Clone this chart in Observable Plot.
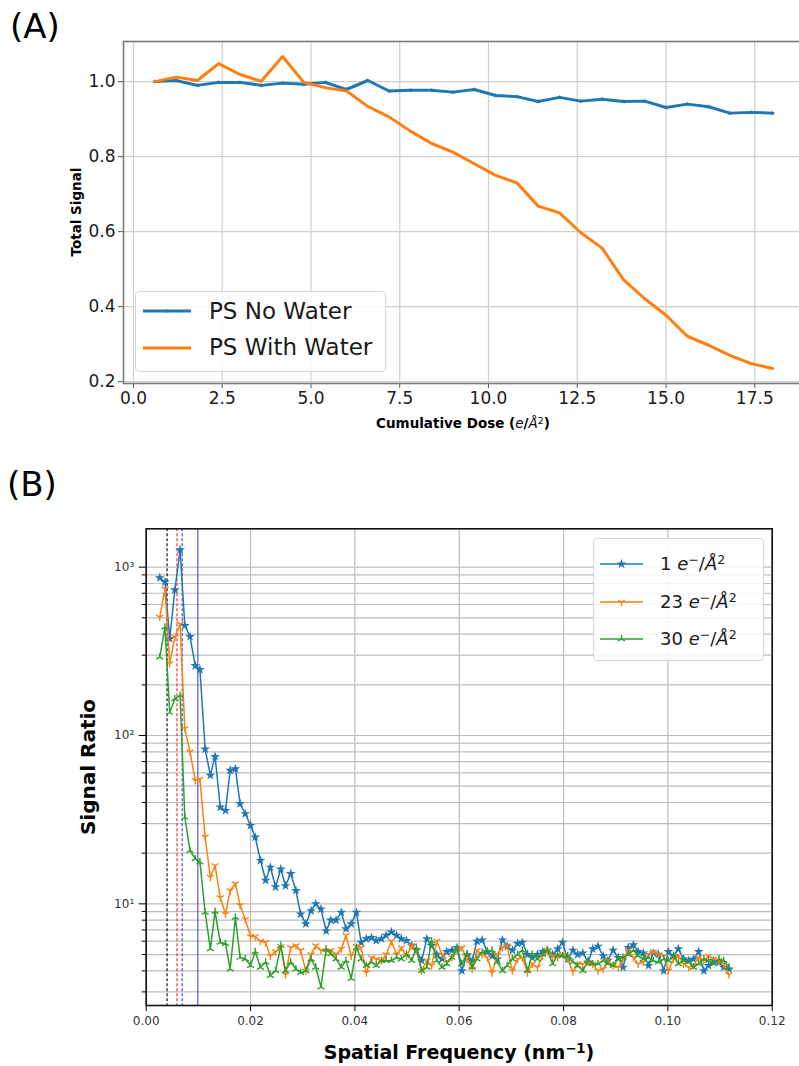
<!DOCTYPE html>
<html><head><meta charset="utf-8">
<script src="https://cdn.jsdelivr.net/npm/d3@7"></script>
<script src="https://cdn.jsdelivr.net/npm/@observablehq/plot@0.6"></script>
<style>
body{margin:0;background:#fff;font-family:"DejaVu Sans",sans-serif;}
#root{position:relative;width:799px;height:1066px;overflow:hidden;background:#fff;}
.abs{position:absolute;white-space:nowrap;line-height:1;color:#000;}
.rot{transform:translate(-50%,-50%) rotate(-90deg);}
.ctr{transform:translate(-50%,-50%);}
sup{font-size:0.7em;vertical-align:0.45em;line-height:0;}
.legend{position:absolute;border:1px solid #d6d6d6;border-radius:4px;background:rgba(255,255,255,0.85);}
</style></head><body><div id="root"></div>
<script>
// ---------- Panel A data ----------
const doseA = [0.6,1.2,1.8,2.4,3.0,3.6,4.2,4.8,5.4,6.0,6.6,7.2,7.8,8.4,9.0,9.6,10.2,10.8,11.4,12.0,12.6,13.2,13.8,14.4,15.0,15.6,16.2,16.8,17.4,18.0];
const noWater = [1.000,1.003,0.990,0.998,0.998,0.990,0.996,0.993,0.998,0.979,1.003,0.975,0.977,0.977,0.972,0.979,0.963,0.960,0.947,0.958,0.948,0.953,0.947,0.948,0.931,0.940,0.933,0.916,0.918,0.916];
const withWater = [1.000,1.012,1.003,1.048,1.019,1.001,1.067,0.998,0.984,0.975,0.934,0.906,0.868,0.835,0.812,0.781,0.750,0.730,0.668,0.650,0.597,0.556,0.472,0.421,0.377,0.321,0.297,0.270,0.248,0.235];
const xTicksA = [0,2.5,5,7.5,10,12.5,15,17.5];
const yTicksA = [0.2,0.4,0.6,0.8,1.0];
const seriesA = ["PS No Water","PS With Water"];

// ---------- Panel B data ----------
const freq = [0.0026,0.0036,0.0045,0.0055,0.0065,0.0074,0.0084,0.0094,0.0103,0.0113,
0.0123,0.0132,0.0142,0.0152,0.0161,0.0171,0.0180,0.0190,0.0200,0.0209,
0.0219,0.0229,0.0238,0.0248,0.0258,0.0267,0.0277,0.0287,0.0296,0.0306,
0.0316,0.0325,0.0335,0.0345,0.0354,0.0364,0.0374,0.0383,0.0393,0.0403,
0.0412,0.0422,0.0432,0.0441,0.0451,0.0460,0.0470,0.0480,0.0489,0.0499,
0.0509,0.0518,0.0528,0.0538,0.0547,0.0557,0.0567,0.0576,0.0586,0.0596,
0.0605,0.0615,0.0625,0.0634,0.0644,0.0654,0.0663,0.0673,0.0683,0.0692,
0.0702,0.0712,0.0721,0.0731,0.0740,0.0750,0.0760,0.0769,0.0779,0.0789,
0.0798,0.0808,0.0818,0.0827,0.0837,0.0847,0.0856,0.0866,0.0876,0.0885,
0.0895,0.0905,0.0914,0.0924,0.0934,0.0943,0.0953,0.0963,0.0972,0.0982,
0.0992,0.1001,0.1011,0.1020,0.1030,0.1040,0.1049,0.1059,0.1069,0.1078,
0.1088,0.1098,0.1107,0.1117];
const ratio1 = [865,815,376,734,1268,450,387,260,246,83,
58,75,37.5,35.8,62,63.4,39.3,34.3,29.2,24.9,
18.1,13.8,16.5,12.6,16.1,12.8,15.1,12.0,8.7,7.6,
9.1,10.0,9.3,6.9,8.0,8.0,8.9,7.1,7.6,8.9,
5.9,6.2,6.3,6.05,6.2,6.5,6.8,6.5,6.2,6.05,
5.65,5.3,4.6,6.2,5.65,5.0,4.7,5.2,5.3,5.5,
4.0,5.0,4.6,6.0,6.1,5.2,4.9,4.7,6.1,5.6,
5.3,5.8,5.9,5.0,4.8,5.0,5.2,5.3,5.0,5.4,
5.9,4.7,5.3,5.0,5.1,4.5,5.4,5.6,4.9,4.6,
5.3,4.8,4.2,5.5,5.7,5.2,5.1,4.3,5.1,5.0,
4.0,5.2,4.9,5.4,4.7,4.6,4.7,5.2,4.0,4.3,
4.6,4.5,4.2,4.1];
const ratio23 = [505,744,267,384,461,110,80,54,55,25,
14.4,16.9,10.9,8.7,12.0,13.2,9.8,8.1,6.4,6.4,
6.0,5.9,4.9,5.2,5.6,3.8,5.5,5.65,5.3,4.0,
5.0,5.65,5.3,5.2,5.3,5.0,5.4,6.5,4.9,5.6,
5.5,3.9,4.8,4.7,4.6,5.0,6.0,5.0,5.5,4.9,
5.65,5.3,4.0,4.6,4.3,6.0,5.0,4.5,4.8,5.3,
5.5,4.7,4.1,5.3,5.0,4.8,3.9,5.0,5.5,5.65,
4.0,4.7,4.8,3.9,4.4,4.2,4.9,5.3,4.9,4.8,
5.0,4.7,3.95,4.4,4.4,4.5,4.4,4.0,4.1,4.6,
4.3,4.2,4.7,5.3,4.8,4.4,4.5,5.0,5.2,5.0,
4.9,4.0,4.7,4.9,4.4,4.2,4.3,4.8,4.6,4.9,
4.7,4.6,4.4,3.8];
const ratio30 = [292,440,137,165,173,32.7,20.7,18.5,17.7,8.9,
5.4,9.0,5.9,5.8,4.1,8.3,4.8,4.7,4.3,5.2,
4.2,4.5,3.75,4.0,5.65,4.0,4.5,4.1,3.9,4.0,
4.7,4.2,3.2,5.4,5.04,4.7,4.2,4.6,3.6,5.5,
4.7,4.3,4.5,4.3,4.6,4.6,4.6,4.8,4.7,5.0,
4.6,5.5,4.0,4.2,6.0,4.6,4.2,4.4,4.8,5.4,
4.4,5.04,4.2,4.7,5.16,5.2,5.3,4.5,4.0,4.3,
4.7,5.0,5.3,4.0,5.0,4.7,5.0,5.3,4.4,5.0,
4.9,4.9,4.5,4.3,4.0,4.6,4.4,4.4,4.6,4.4,
4.3,4.7,4.8,5.0,5.3,4.9,4.7,4.8,4.6,4.5,
4.7,4.6,4.9,4.4,4.6,4.5,4.2,4.4,4.7,4.6,
4.4,4.7,4.6,4.2];
const refLines = [0.0040,0.0059,0.0069,0.0099];
const refColors = ["#000000","#ff2020","#3b3bc8","#4a4ab8"];
const refDash = ["3,2","3,2","3,2",null];
const xTicksB = [0,0.02,0.04,0.06,0.08,0.10,0.12];
const yMajorB = [10,100,1000];
const yMinorB = [3,4,5,6,7,8,9,20,30,40,50,60,70,80,90,200,300,400,500,600,700,800,900];
const seriesB = ["1","23","30"];

const C = {blue:"#1f77b4", orange:"#ff7f0e", green:"#2ca02c"};
const root = document.getElementById("root");

function tri(dir){ // dir=1: tri_down (Y), dir=-1: tri_up
  return {draw(ctx,size){
    const r = Math.sqrt(size/Math.PI);
    ctx.moveTo(0,0); ctx.lineTo(0,dir*r);
    ctx.moveTo(0,0); ctx.lineTo(-0.866*r,-dir*0.5*r);
    ctx.moveTo(0,0); ctx.lineTo(0.866*r,-dir*0.5*r);
  }};
}
const triDown = tri(1), triUp = tri(-1);

// ---------- Panel A ----------
const rowsA = doseA.map((d,i)=>({dose:d, noWater:noWater[i], withWater:withWater[i]}));
const chartA = Plot.plot({
  width:804, height:450,
  marginLeft:123, marginRight:0, marginTop:41, marginBottom:67,
  style:{fontFamily:"DejaVu Sans, sans-serif", fontSize:"17px", color:"#1a1a1a", background:"transparent"},
  x:{domain:[-0.28,18.90]},
  y:{domain:[0.195,1.107]},
  marks:[
    Plot.gridX(xTicksA,{stroke:"#cfcfcf", strokeOpacity:1, strokeWidth:1.2}),
    Plot.gridY(yTicksA,{stroke:"#cfcfcf", strokeOpacity:1, strokeWidth:1.2}),
    Plot.axisX(xTicksA,{tickFormat:d3.format(".1f"), tickSize:5, tickPadding:3, fontSize:17, label:null, stroke:"#555"}),
    Plot.axisY(yTicksA,{tickFormat:d3.format(".1f"), tickSize:5, tickPadding:3, fontSize:17, label:null, stroke:"#555"}),
    Plot.line(rowsA,{x:"dose", y:"noWater", stroke:C.blue, strokeWidth:3}),
    Plot.dot(rowsA,{x:"dose", y:"noWater", symbol:"star", r:1.6, fill:C.blue}),
    Plot.line(rowsA,{x:"dose", y:"withWater", stroke:C.orange, strokeWidth:3}),
    Plot.frame({stroke:"#7a7a7a", strokeWidth:1.6})
  ]
});
const divA = document.createElement("div");
divA.style.cssText = "position:absolute;left:0;top:0;width:804px;height:450px;";
divA.appendChild(chartA); root.appendChild(divA);

// ---------- Panel B ----------
const rowsB = [];
freq.forEach((f,i)=>{
  rowsB.push({f, v:ratio1[i], s:"1"});
  rowsB.push({f, v:ratio23[i], s:"23"});
  rowsB.push({f, v:ratio30[i], s:"30"});
});
const supDigits = {1:"¹",2:"²",3:"³"};
const ruleMarks = refLines.map((x,i)=>Plot.ruleX([x],{stroke:refColors[i], strokeWidth:1.1, strokeDasharray:refDash[i]}));
const chartB = Plot.plot({
  width:799, height:616,
  marginLeft:145.7, marginRight:27.3, marginTop:78.3, marginBottom:61,
  style:{fontFamily:"DejaVu Sans, sans-serif", fontSize:"12px", color:"#333", background:"transparent"},
  x:{domain:[0,0.12]},
  y:{type:"log", domain:[2.49,1690]},
  marks:[
    Plot.gridX(xTicksB,{stroke:"#bdbdbd", strokeOpacity:1, strokeWidth:1.2}),
    Plot.gridY(yMinorB,{stroke:"#bdbdbd", strokeOpacity:1, strokeWidth:1.2}),
    Plot.gridY(yMajorB,{stroke:"#bdbdbd", strokeOpacity:1, strokeWidth:1.2}),
    Plot.axisX(xTicksB,{tickFormat:d3.format(".2f"), tickSize:6, tickPadding:5, fontSize:12, label:null, stroke:"#000"}),
    Plot.axisY(yMinorB,{tickFormat:()=>"", tickSize:4, label:null, stroke:"#000"}),
    Plot.axisY(yMajorB,{tickFormat:d=>"10"+supDigits[Math.round(Math.log10(d))], tickSize:7, tickPadding:5, fontSize:12, label:null, stroke:"#000"}),
    ...ruleMarks,
    Plot.line(rowsB.filter(d=>d.s==="1"),{x:"f", y:"v", stroke:C.blue, strokeWidth:1.5}),
    Plot.dot(rowsB.filter(d=>d.s==="1"),{x:"f", y:"v", symbol:"star", r:3.1, fill:C.blue}),
    Plot.line(rowsB.filter(d=>d.s==="23"),{x:"f", y:"v", stroke:C.orange, strokeWidth:1.5}),
    Plot.dot(rowsB.filter(d=>d.s==="23"),{x:"f", y:"v", symbol:triDown, r:4, fill:"none", stroke:C.orange, strokeWidth:1.4}),
    Plot.line(rowsB.filter(d=>d.s==="30"),{x:"f", y:"v", stroke:C.green, strokeWidth:1.5}),
    Plot.dot(rowsB.filter(d=>d.s==="30"),{x:"f", y:"v", symbol:triUp, r:4, fill:"none", stroke:C.green, strokeWidth:1.4}),
    Plot.frame({stroke:"#111", strokeWidth:1.6})
  ]
});
const divB = document.createElement("div");
divB.style.cssText = "position:absolute;left:0;top:450px;width:799px;height:616px;";
divB.appendChild(chartB); root.appendChild(divB);

// ---------- Texts ----------
function addText(html, css, cls){
  const d = document.createElement("div");
  d.className = "abs" + (cls ? " " + cls : "");
  d.innerHTML = html; d.style.cssText += css; root.appendChild(d); return d;
}
addText("(A)", "left:10px;top:9px;font-size:34px;");
addText("(B)", "left:7px;top:467px;font-size:34px;");
addText("Total Signal", "left:77px;top:212px;font-size:13.5px;font-weight:bold;", "rot");
addText('Cumulative Dose (<span style="font-weight:normal;font-style:italic">e</span>/<span style="font-weight:normal;font-style:italic">Å</span><sup style="font-weight:normal">2</sup>)', "left:463px;top:424px;font-size:13.5px;font-weight:bold;", "ctr");
addText("Signal Ratio", "left:88px;top:767px;font-size:20px;font-weight:bold;", "rot");
addText('Spatial Frequency (nm<sup>−1</sup>)', "left:459px;top:1052px;font-size:19px;font-weight:bold;", "ctr");

// legend helpers
function swatch(color, w, sw, markerPath, markerFill, markerStroke){
  return `<svg width="${w}" height="20" style="position:absolute;left:0;top:-10px;overflow:visible">
    <line x1="0" y1="10" x2="${w}" y2="10" stroke="${color}" stroke-width="${sw}"/>
    ${markerPath ? `<path transform="translate(${w/2},10)" d="${markerPath}" fill="${markerFill}" stroke="${markerStroke}" stroke-width="1.4"/>` : ""}
  </svg>`;
}
const starSmall = d3.symbol(d3.symbolStar, 2.56*Math.PI)();
const starB = d3.symbol(d3.symbolStar, 3.1*3.1*Math.PI)();
const triDownPath = d3.symbol(triDown, 16*Math.PI)();
const triUpPath = d3.symbol(triUp, 16*Math.PI)();

// Legend A
const legA = document.createElement("div");
legA.className = "legend";
legA.style.cssText += "left:135px;top:291px;width:249px;height:79px;";
root.appendChild(legA);
const colorsA = [C.blue, C.orange];
const markersA = [starSmall, null];
seriesA.forEach((name,i)=>{
  const y = 311 + i*36.7;
  const s = document.createElement("div");
  s.style.cssText = `position:absolute;left:143px;top:${y}px;width:48px;height:0;`;
  s.innerHTML = swatch(colorsA[i], 48, 3, markersA[i], colorsA[i], "none");
  root.appendChild(s);
  addText(name, `left:209px;top:${y - 11.5}px;font-size:23px;line-height:23px;color:#1a1a1a;`);
});

// Legend B
const legB = document.createElement("div");
legB.className = "legend";
legB.style.cssText += "left:593px;top:538px;width:169px;height:121px;";
root.appendChild(legB);
const colorsB = [C.blue, C.orange, C.green];
const markersB = [[starB, C.blue, "none"], [triDownPath, "none", C.orange], [triUpPath, "none", C.green]];
seriesB.forEach((name,i)=>{
  const y = 564 + i*37.5;
  const s = document.createElement("div");
  s.style.cssText = `position:absolute;left:600px;top:${y}px;width:43px;height:0;`;
  s.innerHTML = swatch(colorsB[i], 43, 1.5, markersB[i][0], markersB[i][1], markersB[i][2]);
  root.appendChild(s);
  addText(`${name} <i>e</i><sup>−</sup>/<i>Å</i><sup>2</sup>`, `left:660px;top:${y - 9}px;font-size:18px;line-height:18px;color:#1a1a1a;`);
});
</script></body></html>
